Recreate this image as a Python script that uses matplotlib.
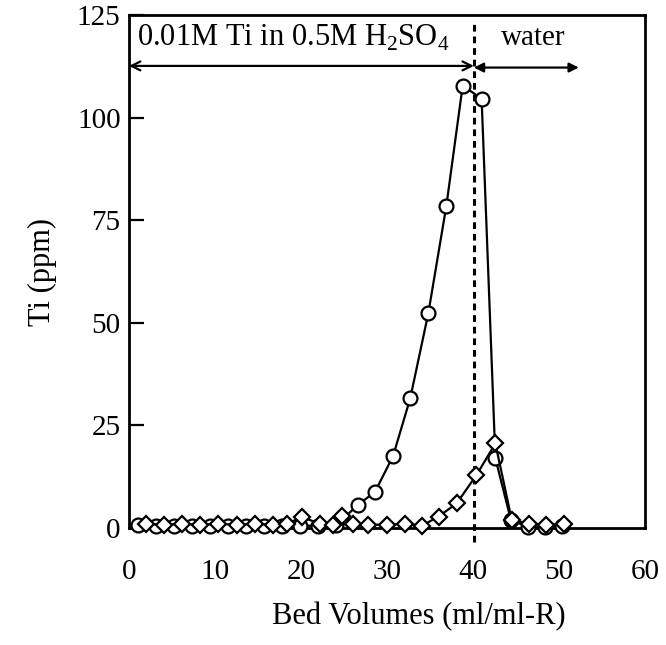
import matplotlib
matplotlib.use("Agg")
import matplotlib.pyplot as plt

plt.rcParams['font.family'] = ['Liberation Serif', 'DejaVu Serif']
plt.rcParams['mathtext.fontset'] = 'custom'
plt.rcParams['mathtext.rm'] = 'Liberation Serif'

# Series 1 (circles)
circle_x = [1.0, 3.1, 5.2, 7.3, 9.4, 11.5, 13.6, 15.7, 17.8, 19.9, 22.0, 24.1,
            26.6, 28.6, 30.7, 32.7, 34.8, 36.9, 38.8, 41.0, 42.6, 44.4, 46.4, 48.4, 50.4]
circle_y = [0.8, 0.4, 0.5, 0.4, 0.4, 0.5, 0.4, 0.4, 0.5, 0.6, 0.5, 0.7,
            5.6, 8.8, 17.5, 31.6, 52.3, 78.5, 107.8, 104.6, 17.0, 2.0, 0.2, 0.2, 0.4]

# Series 2 (diamonds)
diamond_x = [2.0, 4.1, 6.2, 8.3, 10.4, 12.5, 14.6, 16.7, 18.4, 20.1, 22.2, 23.7, 24.8,
             26.0, 27.8, 30.0, 32.1, 34.1, 36.0, 38.1, 40.4, 42.6, 44.5, 46.5, 48.5, 50.6]
diamond_y = [1.0, 0.8, 1.0, 0.8, 1.0, 0.8, 1.0, 0.8, 1.0, 2.7, 1.0, 0.8, 2.9,
             1.0, 0.8, 0.8, 1.0, 0.6, 2.8, 6.0, 12.9, 20.6, 2.0, 1.0, 0.8, 1.0]

x_ticks = [0, 10, 20, 30, 40, 50, 60]
y_ticks = [0, 25, 50, 75, 100, 125]
switch_bv = 40.1
acid_label = r'0.01M Ti in 0.5M H$_2$SO$_4$'
water_label = 'water'

fig = plt.figure(figsize=(6.66, 6.45), dpi=100)
ax = fig.add_axes([0.1937, 0.1814, 0.7748, 0.7953])

ax.plot(circle_x, circle_y, color='black', lw=1.6, marker='o', ms=10,
        mfc='white', mec='black', mew=1.6, clip_on=False, zorder=3)
ax.plot(diamond_x, diamond_y, color='black', lw=1.6, marker='D', ms=8,
        mfc='white', mec='black', mew=1.6, clip_on=False, zorder=4)

ax.plot([switch_bv, switch_bv], [-3.5, 122.8], color='black', lw=2.2,
        ls=(0, (2.2, 1.6)), clip_on=False, zorder=2)

ax.annotate('', xy=(0, 112.6), xytext=(switch_bv, 112.6),
            arrowprops=dict(arrowstyle='<->', color='black', lw=1.6,
                            mutation_scale=16, shrinkA=0, shrinkB=0))
ax.annotate('', xy=(switch_bv, 112.2), xytext=(52.3, 112.2),
            arrowprops=dict(arrowstyle='<|-|>', color='black', lw=1.6,
                            mutation_scale=14, shrinkA=0, shrinkB=0))
ax.text(0.9, 119.3, acid_label, fontsize=22, ha='left', va='center')
ax.text(47.0, 119.3, water_label, fontsize=21, ha='center', va='center')

ax.set_xlim(0, 60)
ax.set_ylim(0, 125)
ax.set_xticks(x_ticks)
ax.set_yticks(y_ticks)
ax.tick_params(axis='x', length=0, pad=22, labelsize=21)
ax.tick_params(axis='y', direction='in', length=11, width=1.6, pad=6, labelsize=21)
for s in ax.spines.values():
    s.set_linewidth(2)

ax.set_xlabel('Bed Volumes (ml/ml-R)', fontsize=22, va='center')
ax.xaxis.set_label_coords(0.562, -0.172)
ax.set_ylabel('Ti (ppm)', fontsize=22, labelpad=14)

fig.savefig('out.png', dpi=100)
